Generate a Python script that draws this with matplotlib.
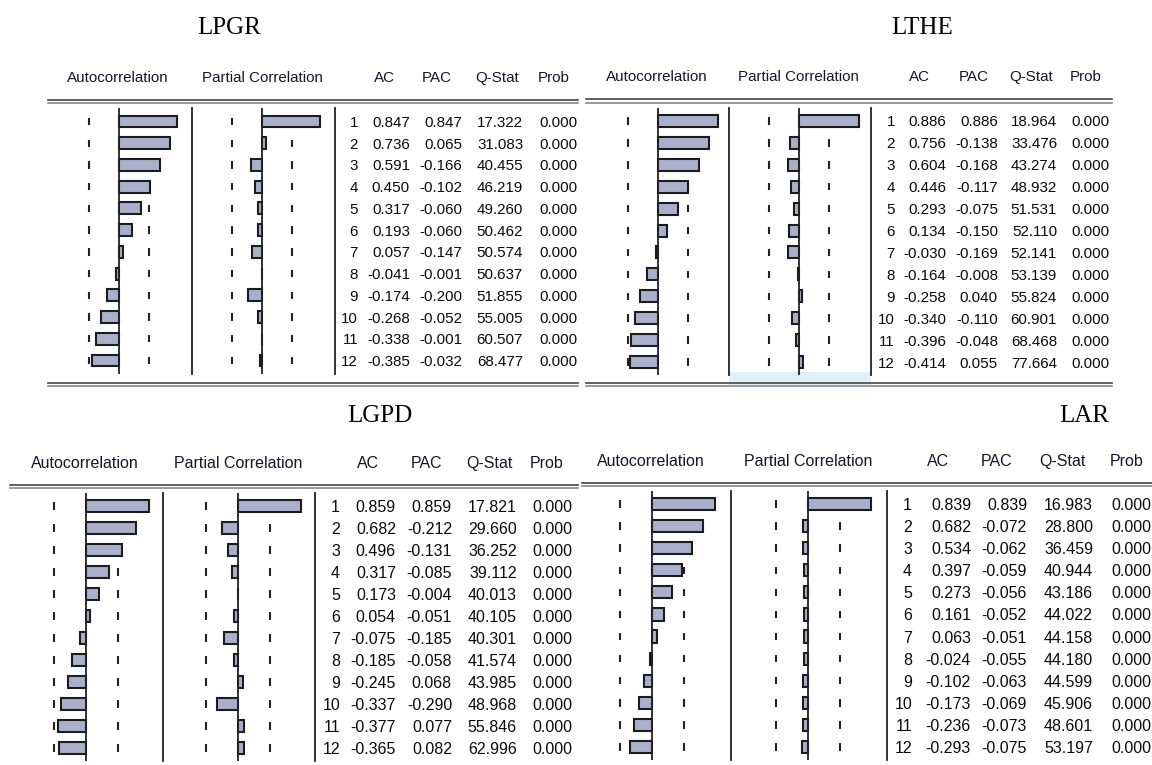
import matplotlib.pyplot as plt
from matplotlib.patches import Rectangle

W, H = 1152, 765

lags = list(range(1, 13))
conf_band = 0.436  # +/- 2/sqrt(n) dashes

lpgr_ac = [0.847, 0.736, 0.591, 0.450, 0.317, 0.193, 0.057, -0.041, -0.174, -0.268, -0.338, -0.385]
lpgr_pac = [0.847, 0.065, -0.166, -0.102, -0.060, -0.060, -0.147, -0.001, -0.200, -0.052, -0.001, -0.032]
lpgr_q = [17.322, 31.083, 40.455, 46.219, 49.260, 50.462, 50.574, 50.637, 51.855, 55.005, 60.507, 68.477]
lpgr_prob = [0.000] * 12

lthe_ac = [0.886, 0.756, 0.604, 0.446, 0.293, 0.134, -0.030, -0.164, -0.258, -0.340, -0.396, -0.414]
lthe_pac = [0.886, -0.138, -0.168, -0.117, -0.075, -0.150, -0.169, -0.008, 0.040, -0.110, -0.048, 0.055]
lthe_q = [18.964, 33.476, 43.274, 48.932, 51.531, 52.110, 52.141, 53.139, 55.824, 60.901, 68.468, 77.664]
lthe_prob = [0.000] * 12

lgpd_ac = [0.859, 0.682, 0.496, 0.317, 0.173, 0.054, -0.075, -0.185, -0.245, -0.337, -0.377, -0.365]
lgpd_pac = [0.859, -0.212, -0.131, -0.085, -0.004, -0.051, -0.185, -0.058, 0.068, -0.290, 0.077, 0.082]
lgpd_q = [17.821, 29.660, 36.252, 39.112, 40.013, 40.105, 40.301, 41.574, 43.985, 48.968, 55.846, 62.996]
lgpd_prob = [0.000] * 12

lar_ac = [0.839, 0.682, 0.534, 0.397, 0.273, 0.161, 0.063, -0.024, -0.102, -0.173, -0.236, -0.293]
lar_pac = [0.839, -0.072, -0.062, -0.059, -0.056, -0.052, -0.051, -0.055, -0.063, -0.069, -0.073, -0.075]
lar_q = [16.983, 28.800, 36.459, 40.944, 43.186, 44.022, 44.158, 44.180, 44.599, 45.906, 48.601, 53.197]
lar_prob = [0.000] * 12

# layout in pixels (screen-shot geometry of each EViews correlogram)
panels = [
    dict(name="LPGR", data=(lpgr_ac, lpgr_pac, lpgr_q, lpgr_prob), title_xy=(229, 28),
         ac_left=50, ac_zero=119, pac_zero=262, sep1=192, sep2=335, scale=69,
         row1=121.5, row12=360.5, head_y=78,
         heads=(118, 262, 384, 437, 497, 554), cols=(358, 410, 462, 523, 577),
         dline=(48, 578, 99.5, 382.5), fs=10.9),
    dict(name="LTHE", data=(lthe_ac, lthe_pac, lthe_q, lthe_prob), title_xy=(922, 28),
         ac_left=590, ac_zero=658, pac_zero=799, sep1=729, sep2=871, scale=68,
         row1=121, row12=362, head_y=77,
         heads=(657, 798, 919, 974, 1031, 1086), cols=(895, 946, 998, 1057, 1109),
         dline=(586, 1112, 99, 382.5), fs=10.9),
    dict(name="LGPD", data=(lgpd_ac, lgpd_pac, lgpd_q, lgpd_prob), title_xy=(380, 416),
         ac_left=12, ac_zero=86, pac_zero=238, sep1=163, sep2=315, scale=73.4,
         row1=506, row12=748, head_y=463,
         heads=(85, 238, 368, 427, 489, 547), cols=(340, 396, 452, 517, 572),
         dline=(10, 578, 484.5, None), fs=11.5),
    dict(name="LAR", data=(lar_ac, lar_pac, lar_q, lar_prob), title_xy=(1084, 416),
         ac_left=584, ac_zero=652, pac_zero=808, sep1=731, sep2=887, scale=74.5,
         row1=504, row12=747, head_y=461,
         heads=(651, 808, 938, 997, 1062, 1127), cols=(912, 971, 1027, 1093, 1151),
         dline=(582, 1152, 482.5, None), fs=11.5),
]

bar_color = "#a9b0cc"
edge_color = "#1c1c1c"
line_color = "#222222"
sans = "Liberation Sans"

fig = plt.figure(figsize=(W / 100, H / 100), dpi=100)


def px_axes(x0, x1, y0, y1):
    return fig.add_axes([x0 / W, 1 - y1 / H, (x1 - x0) / W, (y1 - y0) / H])


def clean(ax, right=False):
    ax.set_xticks([])
    ax.set_yticks([])
    ax.patch.set_alpha(0)
    for side in ["left", "top", "bottom"]:
        ax.spines[side].set_visible(False)
    ax.spines["right"].set_visible(right)
    ax.spines["right"].set_color(line_color)
    ax.spines["right"].set_linewidth(1.3)


ov = fig.add_axes([0, 0, 1, 1])
ov.set_xlim(0, W)
ov.set_ylim(H, 0)
ov.axis("off")

# light blue selection strip in LTHE panel
ov.add_patch(Rectangle((729, 372), 142, 14, color="#dff0f8", zorder=1, lw=0))

for p in panels:
    ac, pac, q, prob = p["data"]
    sp = (p["row12"] - p["row1"]) / 11
    y_top = p["row1"] - 0.6 * sp
    y_bot = p["row12"] + 0.6 * sp
    ylim = (12.6, 0.4)

    # autocorrelation column
    ax1 = px_axes(p["ac_left"], p["sep1"], y_top, y_bot)
    ax1.set_xlim((p["ac_left"] - p["ac_zero"]) / p["scale"], (p["sep1"] - p["ac_zero"]) / p["scale"])
    ax1.set_ylim(*ylim)
    # partial correlation column
    ax2 = px_axes(p["sep1"], p["sep2"], y_top, y_bot)
    ax2.set_xlim((p["sep1"] - p["pac_zero"]) / p["scale"], (p["sep2"] - p["pac_zero"]) / p["scale"])
    ax2.set_ylim(*ylim)

    for ax, vals in [(ax1, ac), (ax2, pac)]:
        clean(ax, right=True)
        for b in (-conf_band, conf_band):
            ax.vlines([b] * 12, [l - 0.17 for l in lags], [l + 0.17 for l in lags],
                      color=line_color, lw=1.5, zorder=2)
        ax.barh(lags, vals, height=0.55, left=0, color=bar_color,
                edgecolor=edge_color, linewidth=1.5, zorder=3)
        ax.axvline(0, color=line_color, lw=1.3, zorder=4)

    # table of numbers
    x_end = min(W, p["cols"][-1] + 5)
    ax3 = px_axes(p["sep2"], x_end, y_top, y_bot)
    ax3.set_xlim(p["sep2"], x_end)
    ax3.set_ylim(*ylim)
    clean(ax3)
    c_lag, c_ac, c_pac, c_q, c_p = p["cols"]
    for i, lag in enumerate(lags):
        kw = dict(ha="right", va="center_baseline", fontsize=p["fs"], family=sans, color="#0a0a0a")
        ax3.text(c_lag, lag, f"{lag}", **kw)
        ax3.text(c_ac, lag, f"{ac[i]:.3f}", **kw)
        ax3.text(c_pac, lag, f"{pac[i]:.3f}", **kw)
        ax3.text(c_q, lag, f"{q[i]:.3f}", **kw)
        ax3.text(c_p, lag, f"{prob[i]:.3f}", **kw)

    # titles and headers
    ov.text(*p["title_xy"], p["name"], ha="center", va="center", fontsize=18,
            family="Liberation Serif", color="black")
    hx = p["heads"]
    for x, s in zip(hx, ["Autocorrelation", "Partial Correlation", "AC", "PAC", "Q-Stat", "Prob"]):
        ov.text(x, p["head_y"], s, ha="center", va="center", fontsize=p["fs"],
                family=sans, color="#15152a")

    # double rules
    x0, x1, ytop, ybot = p["dline"]
    for yy in [ytop, ybot]:
        if yy is None:
            continue
        ov.plot([x0, x1], [yy, yy], color="#444444", lw=1.2, zorder=2)
        ov.plot([x0, x1], [yy + 3.5, yy + 3.5], color="#888888", lw=1.2, zorder=2)

fig.savefig("out.png", dpi=100, facecolor="white")
